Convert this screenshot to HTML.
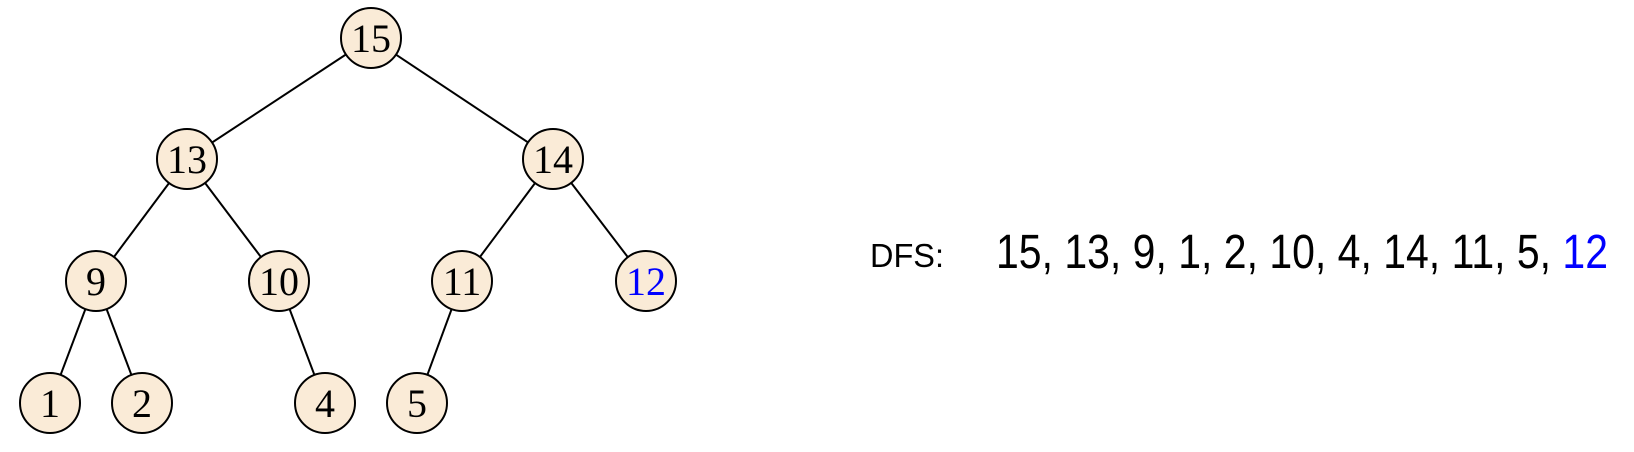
<!DOCTYPE html>
<html><head><meta charset="utf-8"><style>html,body{margin:0;padding:0;background:#fff}svg{display:block}</style></head>
<body>
<svg width="1634" height="452" viewBox="0 0 1634 452" xmlns="http://www.w3.org/2000/svg">
<g stroke="#000" stroke-width="2">
<line x1="371" y1="38" x2="187" y2="159"/>
<line x1="371" y1="38" x2="553" y2="159"/>
<line x1="187" y1="159" x2="96" y2="281"/>
<line x1="187" y1="159" x2="279" y2="281"/>
<line x1="553" y1="159" x2="462" y2="281"/>
<line x1="553" y1="159" x2="646" y2="281"/>
<line x1="96" y1="281" x2="50" y2="403"/>
<line x1="96" y1="281" x2="142" y2="403"/>
<line x1="279" y1="281" x2="325" y2="403"/>
<line x1="462" y1="281" x2="417" y2="403"/>
</g>
<g fill="#faebd7" stroke="#000" stroke-width="2">
<circle cx="371" cy="38" r="30"/>
<circle cx="187" cy="159" r="30"/>
<circle cx="553" cy="159" r="30"/>
<circle cx="96" cy="281" r="30"/>
<circle cx="279" cy="281" r="30"/>
<circle cx="462" cy="281" r="30"/>
<circle cx="646" cy="281" r="30"/>
<circle cx="50" cy="403" r="30"/>
<circle cx="142" cy="403" r="30"/>
<circle cx="325" cy="403" r="30"/>
<circle cx="417" cy="403" r="30"/>
</g>
<g font-family="'Liberation Serif', serif" font-size="40" text-anchor="middle" fill="#000">
<text x="371" y="52">15</text>
<text x="187" y="173">13</text>
<text x="553" y="173">14</text>
<text x="96" y="295">9</text>
<text x="279" y="295">10</text>
<text x="462" y="295">11</text>
<text x="646" y="295" fill="#0000ff">12</text>
<text x="50" y="417">1</text>
<text x="142" y="417">2</text>
<text x="325" y="417">4</text>
<text x="417" y="417">5</text>
</g>
<text x="870" y="267" font-family="'Liberation Sans', sans-serif" font-size="33" textLength="74" lengthAdjust="spacingAndGlyphs">DFS:</text>
<text x="996" y="268" font-family="'Liberation Sans', sans-serif" font-size="48" textLength="612" lengthAdjust="spacingAndGlyphs">15, 13, 9, 1, 2, 10, 4, 14, 11, 5, <tspan fill="#0000ff">12</tspan></text>
</svg>
</body></html>
